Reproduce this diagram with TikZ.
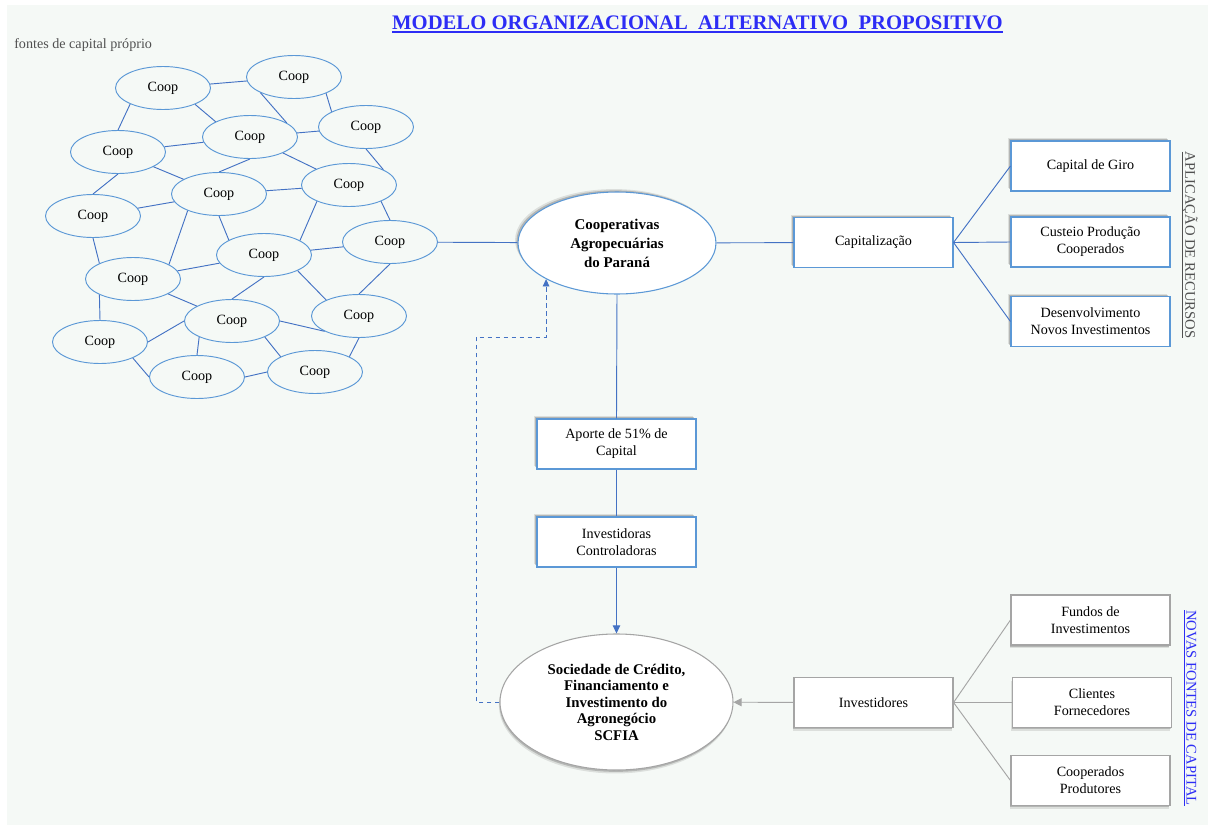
\documentclass[tikz,border=0pt]{standalone}
\usepackage{fontspec}
\setmainfont{Liberation Serif}
\usetikzlibrary{shapes.geometric,arrows.meta,shadows}

\definecolor{panelbg}{RGB}{245,249,246}
\definecolor{linkblue}{RGB}{68,114,196}
\definecolor{ringblue}{RGB}{91,152,214}
\definecolor{edgegrey}{RGB}{165,165,165}
\definecolor{titleblue}{RGB}{45,45,245}
\definecolor{labelgrey}{RGB}{80,80,80}

% underline drawn as a rule of chosen depth and thickness
\newcommand\rulebelow[3]{\setbox0=\hbox{#3}\rlap{\rule[-#1]{\wd0}{#2}}\box0}
\newcommand\txtfont{\fontsize{10.6}{12.7}\selectfont}

\begin{document}
\begin{tikzpicture}[x=0.75pt,y=-0.75pt,
  coop/.style={ellipse,draw=ringblue,line width=0.7pt,minimum width=71.25pt,
    minimum height=32.25pt,inner sep=0pt,font=\txtfont},
  link/.style={draw=linkblue,line width=0.7pt},
  % soft shadows built from two stacked offsets
  topshadow/.style={
    drop shadow={shadow xshift=-2.2pt,shadow yshift=2.2pt,opacity=0.10,fill=black},
    drop shadow={shadow xshift=-1.2pt,shadow yshift=1.2pt,opacity=0.18,fill=black}},
  botshadow/.style={
    drop shadow={shadow xshift=-0.8pt,shadow yshift=-2.6pt,opacity=0.10,fill=black},
    drop shadow={shadow xshift=-0.4pt,shadow yshift=-1.4pt,opacity=0.18,fill=black}},
  bluebox/.style={rectangle,draw=ringblue,line width=0.8pt,fill=white,
    minimum width=119.25pt,minimum height=37.5pt,inner sep=1pt,align=center,
    font=\txtfont,topshadow},
  greybox/.style={rectangle,draw=edgegrey,line width=0.8pt,fill=white,
    minimum width=119.25pt,minimum height=37.5pt,inner sep=1pt,align=center,
    font=\txtfont,botshadow},
  greylink/.style={draw=edgegrey,line width=0.7pt}]

% page and panel
\fill[white] (0,0) rectangle (1208,825);
\fill[panelbg] (7,5) rectangle (1208,825);

% headings
\node[text=titleblue,font=\fontsize{15.5}{18}\selectfont\bfseries,inner sep=0pt]
  (title) at (697.5,24) {\rulebelow{2.6pt}{1.3pt}{MODELO ORGANIZACIONAL\ \ ALTERNATIVO\ \ PROPOSITIVO}};
\node[text=labelgrey,font=\txtfont,inner sep=0pt,anchor=base west]
  (fontes) at (14,48) {fontes de capital próprio};

% network of cooperatives
\node[coop] (c1)  at (163,88)  {Coop};
\node[coop] (c2)  at (294,77)  {Coop};
\node[coop] (c3)  at (366,127) {Coop};
\node[coop] (c4)  at (250,137) {Coop};
\node[coop] (c5)  at (118,152) {Coop};
\node[coop] (c6)  at (219,194) {Coop};
\node[coop] (c7)  at (349,185) {Coop};
\node[coop] (c8)  at (93,216)  {Coop};
\node[coop] (c9)  at (390,242) {Coop};
\node[coop] (c10) at (264,255) {Coop};
\node[coop] (c11) at (133,279) {Coop};
\node[coop] (c12) at (359,316) {Coop};
\node[coop] (c13) at (232,321) {Coop};
\node[coop] (c14) at (100,342) {Coop};
\node[coop] (c15) at (197,377) {Coop};
\node[coop] (c16) at (315,372) {Coop};

\path[link]
  (c1) -- (c2)
  (c1.206) -- (c5.90)
  (c1.333) -- (c4.156)
  (c2.205) -- (c4.21)
  (c2.333) -- (c3.156)
  (c4) -- (c3)
  (c5) -- (c4)
  (c4.270) -- (c6.90)
  (c4) -- (c7)
  (c3.270) -- (c7.24)
  (c5) -- (c6)
  (c5.270) -- (c8.90)
  (c6) -- (c7)
  (c8) -- (c6)
  (c6.208) -- (c11.22)
  (c6.270) -- (c10.157)
  (c7.207) -- (c10.22)
  (c7.333) -- (c9.90)
  (c8.270) -- (c11.155)
  (c11) -- (c10)
  (c10) -- (c9)
  (c11) -- (c13)
  (c10.270) -- (c13.90)
  (c10.335) -- (c12.154)
  (c9.270) -- (c12.90)
  (c11.205) -- (c14.90)
  (c13.180) -- (c14.0)
  (c13.0) -- (c12.204)
  (c13.206) -- (c15.90)
  (c13.334) -- (c16.156)
  (c12.270) -- (c16.24)
  (c14.334) -- (c15.180)
  (c15.0) -- (c16.180);

% central cooperative node
\node[ellipse,draw=ringblue,line width=0.8pt,fill=white,minimum width=148.5pt,
  minimum height=76.5pt,inner sep=0pt,align=center,topshadow,
  font=\fontsize{11.2}{14.2}\selectfont\bfseries] (central) at (617,243)
  {Cooperativas\\Agropecuárias\\do Paraná};

% application of resources
\node[bluebox] (cap)     at (873.5,242.5) {Capitalização};
\node[bluebox] (giro)    at (1090.5,166)  {Capital de Giro};
\node[bluebox] (custeio) at (1090.5,242)  {Custeio Produção\\Cooperados};
\node[bluebox] (desenv)  at (1090.5,321.5){Desenvolvimento\\Novos Investimentos};

\path[link] (c9) -- (central);
\path[link] (central) -- (cap);
\path[link] (cap.east) -- (giro.west);
\path[link] (cap.east) -- (custeio.west);
\path[link] (cap.east) -- (desenv.west);

\node[rotate=-90,text=labelgrey,font=\fontsize{11}{13}\selectfont,inner sep=0pt]
  (aplic) at (1190,245) {\rulebelow{2.2pt}{0.6pt}{APLICAÇÃO DE RECURSOS}};

% controlling investors chain
\node[bluebox] (aporte)  at (616.5,444) {Aporte de 51\% de\\Capital};
\node[bluebox] (invctrl) at (616.5,542) {Investidoras\\Controladoras};

\node[ellipse,draw=edgegrey,line width=0.8pt,fill=white,minimum width=174.75pt,
  minimum height=102pt,inner sep=0pt,align=center,botshadow,
  font=\fontsize{11.1}{12.4}\selectfont\bfseries] (scfia) at (616.5,702)
  {Sociedade de Crédito,\\Financiamento e\\Investimento do\\Agronegócio\\SCFIA};

\path[link] (central.south) -- (aporte.north);
\path[link] (aporte) -- (invctrl);
\draw[link,-{Triangle[length=6pt,width=5.5pt]}] (invctrl) -- (scfia);

\coordinate (loop) at (476,337);
\draw[link,dash pattern=on 3.5pt off 2.5pt,
  -{Triangle[length=5.5pt,width=5pt]}]
  (scfia.west) -| (loop) -| (central.207);

% new capital sources
\node[greybox] (invest)   at (873.5,702.5) {Investidores};
\node[greybox] (fundos)   at (1090.5,620)  {Fundos de\\Investimentos};
\node[greybox] (clientes) at (1092,702.5)  {Clientes\\Fornecedores};
\node[greybox] (coopprod) at (1090.5,780.5){Cooperados\\Produtores};

\draw[greylink,-{Triangle[length=6pt,width=6pt]}] (invest) -- (scfia);
\path[greylink] (invest.east) -- (fundos.west);
\path[greylink] (invest.east) -- (clientes.west);
\path[greylink] (invest.east) -- (coopprod.west);

\node[rotate=-90,text=titleblue,font=\fontsize{11}{13}\selectfont,inner sep=0pt]
  (novas) at (1190,708) {\rulebelow{2.2pt}{0.6pt}{NOVAS FONTES DE CAPITAL}};
\end{tikzpicture}
\end{document}
